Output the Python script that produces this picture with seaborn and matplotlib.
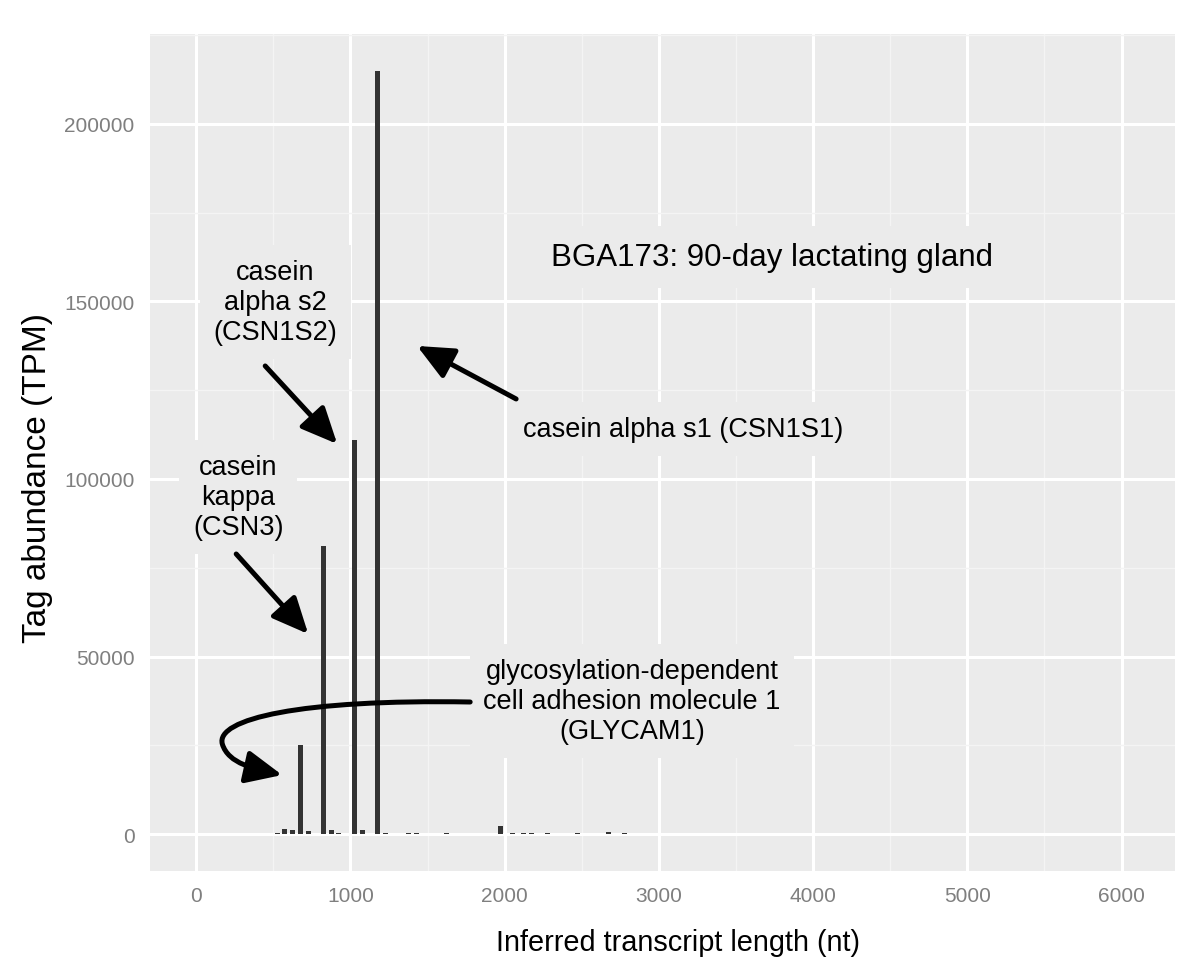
import numpy as np
import pandas as pd
from matplotlib import pyplot as plt
from matplotlib.path import Path
from matplotlib.patches import FancyArrowPatch
from matplotlib.ticker import MultipleLocator
import seaborn as sns

# transcript length bins (nt) and tag abundance (TPM)
lengths = [525, 575, 625, 675, 725, 825, 875, 925, 1025, 1075, 1175, 1225, 1375,
           1425, 1625, 1975, 2050, 2125, 2175, 2275, 2475, 2675, 2775, 2975, 3650]
tpm = [400, 1500, 1000, 25000, 800, 81000, 1200, 300, 111000, 1000, 215000, 200, 400,
       200, 150, 2200, 300, 400, 400, 200, 200, 500, 200, 100, 100]

x_ticks = [0, 1000, 2000, 3000, 4000, 5000, 6000]
y_ticks = [0, 50000, 100000, 150000, 200000]

df = pd.DataFrame({'length': lengths, 'tpm': tpm})

sns.set_style("darkgrid", {"axes.facecolor": "#EBEBEB", "grid.color": "white"})
plt.rcParams['font.family'] = ['Liberation Sans', 'DejaVu Sans']

fig = plt.figure(figsize=(12, 9.7), dpi=100)
ax = fig.add_axes([0.125, 0.101, 0.854, 0.863])

sns.barplot(data=df, x='length', y='tpm', native_scale=True, orient='x',
            color='#333333', saturation=1, width=0.65, errorbar=None, ax=ax,
            zorder=3)
for p in ax.patches:
    p.set_edgecolor('none')

ax.set_xlim(-300, 6345)
ax.set_ylim(-10423, 225352)
ax.set_xticks(x_ticks)
ax.set_yticks(y_ticks)
ax.set_xticklabels([str(t) for t in x_ticks])
ax.set_yticklabels([str(t) for t in y_ticks])
ax.xaxis.set_minor_locator(MultipleLocator(500))
ax.yaxis.set_minor_locator(MultipleLocator(25000))
ax.grid(which='major', color='white', linewidth=2.2, zorder=0)
ax.grid(which='minor', color='#F4F4F4', linewidth=1.0, zorder=0)
ax.set_axisbelow(True)
for s in ax.spines.values():
    s.set_visible(False)
ax.tick_params(which='major', length=7, width=1.6, color='#7F7F7F',
               labelcolor='#7F7F7F', labelsize=15, pad=4)
ax.tick_params(which='minor', length=0)

ax.set_xlabel("Inferred transcript length (nt)", fontsize=20.8, color='black')
ax.set_ylabel("Tag abundance (TPM)", fontsize=24, color='black')
ax.xaxis.set_label_coords(0.515, -0.068)
ax.yaxis.set_label_coords(-0.095, 0.471)

box = dict(boxstyle='square,pad=0.5', facecolor='#EBEBEB', edgecolor='none')
tkw = dict(ha='center', va='center', bbox=box, zorder=2, color='black')
ax.text(3733, 162535, "BGA173: 90-day lactating gland", fontsize=22.5, **tkw)
ax.text(512, 149859, "casein\nalpha s2\n(CSN1S2)", fontsize=19.5, linespacing=1.22, **tkw)
ax.text(3156, 114085, "casein alpha s1 (CSN1S1)", fontsize=19.5, **tkw)
ax.text(272, 94930, "casein\nkappa\n(CSN3)", fontsize=19.5, linespacing=1.22, **tkw)
ax.text(2826, 37465, "glycosylation-dependent\ncell adhesion molecule 1\n(GLYCAM1)",
        fontsize=19.5, linespacing=1.22, **tkw)

akw = dict(arrowstyle='-|>,head_length=1.1,head_width=0.5', color='black',
           lw=3.6, shrinkA=0, shrinkB=0, mutation_scale=20)
ax.annotate("", xy=(914, 109859), xytext=(447, 131831), arrowprops=akw, zorder=4)
ax.annotate("", xy=(1432, 137465), xytext=(2074, 122535), arrowprops=akw, zorder=4)
ax.annotate("", xy=(726, 56338), xytext=(259, 78873), arrowprops=akw, zorder=4)

curve = Path([(1776, 37183), (674, 38028), (123, 32394), (169, 25352),
              (208, 19718), (382, 18310), (557, 16620)],
             [Path.MOVETO, Path.CURVE4, Path.CURVE4, Path.CURVE4,
              Path.CURVE4, Path.CURVE4, Path.CURVE4])
arr = FancyArrowPatch(path=curve, arrowstyle='-|>,head_length=1.1,head_width=0.5',
                      color='black', lw=3.6, mutation_scale=20, zorder=4)
ax.add_patch(arr)

plt.savefig('out.png', dpi=100)
